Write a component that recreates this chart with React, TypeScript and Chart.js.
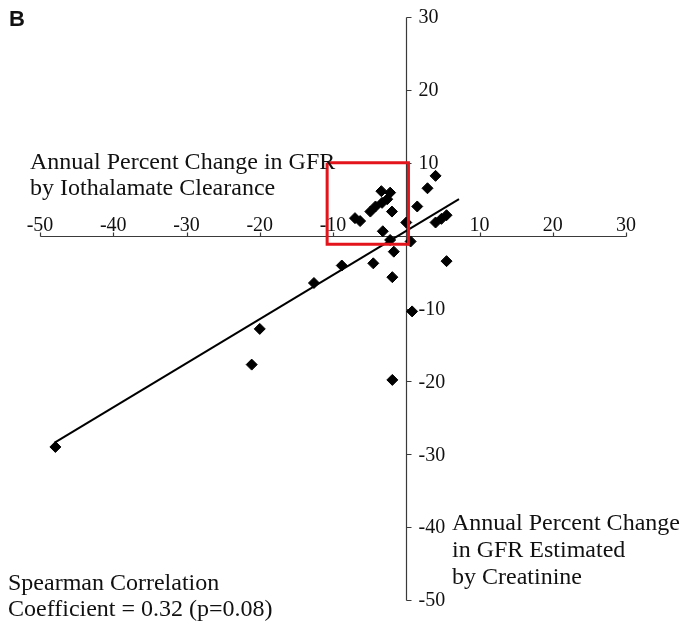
import React, { useEffect, useRef } from "react";
import { Chart, registerables } from "chart.js";

Chart.register(...registerables);

// Axis ticks
const xTicks = [-50, -40, -30, -20, -10, 0, 10, 20, 30];
const xTickLabels = ["-50", "-40", "-30", "-20", "-10", "", "10", "20", "30"];
const yTicks = [-50, -40, -30, -20, -10, 0, 10, 20, 30];
const yTickLabels = ["-50", "-40", "-30", "-20", "-10", "", "10", "20", "30"];

// Annual % change in GFR estimated by creatinine (x)
const creatinineChange = [
  4.0, 2.9, 1.5, 0.0, 4.0, 4.8, 5.5, -3.4, -2.2, -2.6, -3.3, -4.2, -4.9, -1.95, -7.0,
  -6.3, -3.2, 0.6, -2.2, -1.7, -4.5, -8.8, -1.9, 5.5, -12.6, 0.8, -20.0, -21.1, -1.9, -47.9,
];
// Annual % change in GFR by iothalamate clearance (y)
const iothalamateChange = [
  8.2, 6.5, 4.0, 1.8, 1.8, 2.3, 2.8, 6.1, 5.9, 5.0, 4.5, 4.0, 3.3, 3.3, 2.4,
  2.0, 0.6, -0.8, -0.6, -2.2, -3.8, -4.1, -5.7, -3.5, -6.5, -10.4, -12.8, -17.7, -19.8, -29.0,
];

// Regression line end points
const fitX = [-48, 7.2];
const fitY = [-28.4, 5.0];

// Highlight box corners
const boxX = [-10.8, 0.3, 0.3, -10.8, -10.8];
const boxY = [10, 10, -1.2, -1.2, 10];

const SERIF = '"Liberation Serif", "Times New Roman", serif';

const crossAxes = {
  id: "crossAxes",
  beforeDatasetsDraw(chart: any) {
    const { ctx, scales } = chart;
    const xs = scales.x;
    const ys = scales.y;
    const x0 = Math.round(xs.getPixelForValue(0)) + 0.5;
    const y0 = Math.round(ys.getPixelForValue(0)) + 0.5;
    ctx.save();
    ctx.strokeStyle = "#3a3a3a";
    ctx.lineWidth = 1.2;
    // x axis
    ctx.beginPath();
    ctx.moveTo(Math.round(xs.getPixelForValue(xTicks[0])) + 0.5, y0);
    ctx.lineTo(Math.round(xs.getPixelForValue(xTicks[xTicks.length - 1])) + 0.5, y0);
    xTicks.forEach((v) => {
      if (v === 0) return;
      const px = Math.round(xs.getPixelForValue(v)) + 0.5;
      ctx.moveTo(px, y0);
      ctx.lineTo(px, y0 - 4);
    });
    ctx.stroke();
    // y axis
    ctx.beginPath();
    ctx.moveTo(x0, Math.round(ys.getPixelForValue(yTicks[0])) + 0.5);
    ctx.lineTo(x0, Math.round(ys.getPixelForValue(yTicks[yTicks.length - 1])) + 0.5);
    yTicks.forEach((v) => {
      if (v === 0) return;
      const py = Math.round(ys.getPixelForValue(v)) + 0.5;
      ctx.moveTo(x0, py);
      ctx.lineTo(x0 + 5, py);
    });
    ctx.stroke();

    ctx.fillStyle = "#111";
    ctx.font = `20px ${SERIF}`;
    ctx.textAlign = "center";
    ctx.textBaseline = "alphabetic";
    xTicks.forEach((v, i) => {
      if (!xTickLabels[i]) return;
      ctx.fillText(xTickLabels[i], xs.getPixelForValue(v), y0 - 6);
    });
    ctx.textAlign = "left";
    ctx.textBaseline = "middle";
    yTicks.forEach((v, i) => {
      if (!yTickLabels[i]) return;
      ctx.fillText(yTickLabels[i], x0 + 12, ys.getPixelForValue(v) + 1);
    });
    ctx.restore();
  },
};

export default function App() {
  const canvasRef = useRef<HTMLCanvasElement | null>(null);

  useEffect(() => {
    const canvas = canvasRef.current;
    if (!canvas) return;
    const chart = new Chart(canvas, {
      type: "scatter",
      data: {
        datasets: [
          {
            label: "Highlight",
            data: boxX.map((x, i) => ({ x, y: boxY[i] })),
            showLine: true,
            borderColor: "#e3141b",
            borderWidth: 3,
            pointRadius: 0,
            fill: false,
            order: 0,
          } as any,
          {
            label: "Patients",
            data: creatinineChange.map((x, i) => ({ x, y: iothalamateChange[i] })),
            pointStyle: "rectRot",
            pointRadius: 5.5,
            backgroundColor: "#000",
            borderColor: "#000",
            borderWidth: 1,
            order: 1,
          } as any,
          {
            label: "Fit",
            data: fitX.map((x, i) => ({ x, y: fitY[i] })),
            showLine: true,
            borderColor: "#000",
            borderWidth: 2,
            pointRadius: 0,
            fill: false,
            order: 2,
          } as any,
        ],
      },
      options: {
        responsive: false,
        animation: false,
        devicePixelRatio: 1,
        layout: { padding: { left: 40, top: 17, right: 59, bottom: 27 } },
        scales: {
          x: { type: "linear", min: -50, max: 30, display: false },
          y: { type: "linear", min: -50, max: 30, display: false },
        },
        plugins: {
          legend: { display: false },
          tooltip: { enabled: false },
        },
      },
      plugins: [crossAxes],
    });
    return () => chart.destroy();
  }, []);

  const textBase: React.CSSProperties = {
    position: "absolute",
    fontFamily: SERIF,
    fontSize: 24,
    lineHeight: "26px",
    color: "#111",
    whiteSpace: "nowrap",
  };

  return (
    <div style={{ position: "absolute", left: 0, top: 0, width: 685, height: 627, background: "#fff" }}>
      <canvas ref={canvasRef} width={685} height={627} style={{ display: "block" }} />
      <div
        style={{
          position: "absolute",
          left: 9,
          top: 7,
          fontFamily: '"Liberation Sans", Arial, sans-serif',
          fontWeight: "bold",
          fontSize: 22,
          lineHeight: "24px",
          color: "#111",
        }}
      >
        B
      </div>
      <div style={{ ...textBase, left: 30, top: 148 }}>
        Annual Percent Change in GFR
        <br />
        by Iothalamate Clearance
      </div>
      <div style={{ ...textBase, left: 8, top: 569 }}>
        Spearman Correlation
        <br />
        Coefficient = 0.32 (p=0.08)
      </div>
      <div style={{ ...textBase, left: 452, top: 509, lineHeight: "27px" }}>
        Annual Percent Change
        <br />
        in GFR Estimated
        <br />
        by Creatinine
      </div>
    </div>
  );
}
